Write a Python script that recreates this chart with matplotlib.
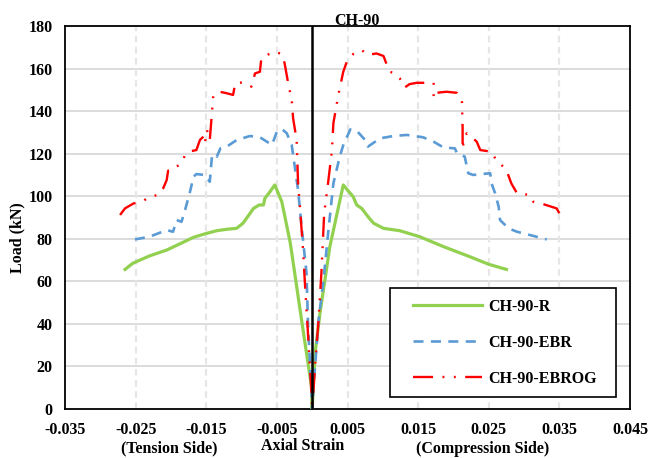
import matplotlib
matplotlib.use('Agg')
import matplotlib.pyplot as plt
from matplotlib.lines import Line2D
from matplotlib.legend_handler import HandlerLine2D
import numpy as np

plt.rcParams['font.family'] = ['Liberation Serif', 'DejaVu Serif']
plt.rcParams['font.weight'] = 'bold'

# ---- data (strain, load in kN) ----
r_strain = [-0.0265, -0.0254, -0.0230, -0.0206, -0.0185, -0.0168, -0.0150, -0.0135, -0.0120,
            -0.0107, -0.0098, -0.0090, -0.0083, -0.0075, -0.0069, -0.0067, -0.0060, -0.0053,
            -0.0043, -0.0031, -0.0015, -0.0008, -0.0001, 0.0, 0.0004, 0.0011, 0.0025, 0.0044,
            0.0051, 0.0058, 0.0063, 0.0070, 0.0080, 0.0087, 0.0101, 0.0124, 0.0152, 0.0186,
            0.0223, 0.0250, 0.0275]
r_load = [65.6, 68.5, 72.0, 74.7, 78.0, 80.7, 82.5, 83.8, 84.5,
          84.9, 87.3, 91.0, 94.3, 95.9, 95.9, 99.0, 102.0, 105.3,
          97.4, 78.0, 41.8, 26.2, 10.5, 0.0, 26.0, 45.0, 76.3, 105.3,
          102.5, 99.8, 95.9, 94.3, 90.0, 87.3, 84.9, 83.8, 81.0, 76.3,
          71.6, 68.0, 65.6]

ebr_strain = [-0.0251, -0.0230, -0.0206, -0.0197, -0.0192, -0.0185, -0.0180, -0.0173, -0.0168,
              -0.0164, -0.0152, -0.0145, -0.0142, -0.0138, -0.0135, -0.0130, -0.0121, -0.0107,
              -0.0088, -0.0074, -0.0064, -0.0057, -0.0050, -0.0043, -0.0036, -0.0029, -0.0020,
              -0.0015, -0.0008, -0.0006, -0.0001, 0.0, 0.0002, 0.0009, 0.0016, 0.0023, 0.0030,
              0.0039, 0.0044, 0.0054, 0.0063, 0.0075, 0.0079, 0.0096, 0.0115, 0.0134, 0.0157,
              0.0172, 0.0186, 0.0202, 0.0205, 0.0216, 0.0221, 0.0228, 0.0252, 0.0254, 0.0259,
              0.0264, 0.0266, 0.0278, 0.0290, 0.0308, 0.0332]
ebr_load = [79.7, 81.0, 84.1, 83.3, 88.8, 88.0, 93.5, 102.1, 109.2,
            110.4, 110.0, 106.8, 118.6, 119.8, 118.6, 122.5, 123.3, 126.4,
            128.3, 127.7, 125.6, 124.1, 130.3, 131.6, 129.6, 124.1, 102.9,
            85.7, 63.8, 40.3, 7.4, 0.0, 10.5, 41.8, 60.6, 84.0, 106.0,
            118.6, 124.0, 131.4, 130.8, 126.4, 123.3, 127.2, 128.3, 128.8, 127.7,
            125.6, 122.9, 122.5, 120.2, 118.6, 110.8, 110.0, 110.8, 106.0, 101.4,
            95.1, 88.8, 84.9, 83.3, 81.8, 79.7]

ebrog_strain = [-0.0272, -0.0265, -0.0253, -0.0241, -0.0230, -0.0218, -0.0211, -0.0206, -0.0204,
                -0.0197, -0.0192, -0.0185, -0.0180, -0.0175, -0.0164, -0.0159, -0.0154, -0.0152,
                -0.0149, -0.0145, -0.0142, -0.0140, -0.0131, -0.0121, -0.0112, -0.0109, -0.0098,
                -0.0086, -0.0081, -0.0074, -0.0072, -0.0064, -0.0053, -0.0043, -0.0039, -0.0034,
                -0.0029, -0.0027, -0.0022, -0.0020, -0.0017, -0.0013, -0.0010, -0.0006, -0.0001,
                0.0, 0.0004, 0.0009, 0.0013, 0.0017, 0.0023, 0.0028, 0.0030, 0.0037, 0.0044,
                0.0049, 0.0058, 0.0070, 0.0079, 0.0091, 0.0101, 0.0104, 0.0110, 0.0117, 0.0124,
                0.0131, 0.0138, 0.0148, 0.0172, 0.0172, 0.0176, 0.0190, 0.0205, 0.0212, 0.0213,
                0.0213, 0.0215, 0.0219, 0.0228, 0.0233, 0.0238, 0.0254, 0.0256, 0.0264, 0.0268,
                0.0275, 0.0282, 0.0290, 0.0308, 0.0313, 0.0327, 0.0346, 0.0350]
ebrog_load = [91.2, 94.3, 96.6, 97.4, 99.8, 100.6, 103.7, 107.6, 112.0,
              112.3, 113.9, 115.5, 119.4, 120.9, 121.7, 126.4, 128.0, 124.8,
              131.1, 126.4, 139.0, 147.6, 149.1, 148.4, 147.6, 153.1, 153.5,
              151.5, 157.7, 158.5, 164.8, 166.4, 167.9, 166.8, 162.4, 153.1,
              145.2, 136.6, 126.4, 106.0, 93.5, 75.0, 57.5, 35.6, 7.4,
              0.0, 20.0, 41.8, 63.8, 92.0, 107.6, 121.7, 134.3, 147.6, 158.5,
              163.2, 166.8, 168.7, 166.4, 167.1, 165.9, 163.2, 158.5, 157.7, 155.4,
              151.1, 152.7, 153.3, 153.3, 146.0, 148.6, 149.1, 148.6, 145.2, 131.9,
              122.0, 127.2, 129.6, 127.2, 125.6, 121.7, 120.9, 119.4, 115.5, 114.7,
              112.3, 106.0, 101.4, 100.6, 97.4, 96.3, 94.3, 92.0]

x_ticks = [-0.035, -0.025, -0.015, -0.005, 0.005, 0.015, 0.025, 0.035, 0.045]
y_ticks = [0, 20, 40, 60, 80, 100, 120, 140, 160, 180]

W, H = 649, 458
fig = plt.figure(figsize=(W / 100, H / 100), dpi=100)
ax = fig.add_axes([65 / W, 1 - 409 / H, 565 / W, 383 / H])

# grid
for yv in y_ticks[1:-1]:
    ax.axhline(yv, color='#d9d9d9', lw=1.3, zorder=0)
for xv in x_ticks[1:-1]:
    ax.axvline(xv, color='#e6e6e6', lw=1.6, ls=(0, (3, 2)), zorder=0)

ax.plot(r_strain, r_load, color='#92d050', lw=2.3, label='CH-90-R', zorder=3,
        solid_joinstyle='round')
ax.plot(ebr_strain, ebr_load, color='#5b9bd5', lw=1.9, dashes=(3.8, 2.8), label='CH-90-EBR', zorder=4)
ax.plot(ebrog_strain, ebrog_load, color='#ff0000', lw=1.7,
        dashes=(8.5, 4.0, 0.8, 4.0, 0.8, 4.0), label='CH-90-EBROG', zorder=5)

ax.axvline(0, color='black', lw=1.8, zorder=6)

ax.set_xlim(-0.035, 0.045)
ax.set_ylim(0, 180)
ax.set_xticks(x_ticks)
ax.set_xticklabels([f'{v:.3f}' for v in x_ticks])
ax.set_yticks(y_ticks)
ax.tick_params(length=0, pad=9, labelsize=11.5)
for sp in ax.spines.values():
    sp.set_color('black')
    sp.set_linewidth(1.3)

leg = ax.legend(loc='lower left', bbox_to_anchor=(0.575, 0.031, 0.40, 0.285), mode='expand',
                borderaxespad=0, fontsize=11.5, handlelength=5.1, handletextpad=0.4,
                labelspacing=1.25, borderpad=0.65, fancybox=False, framealpha=1,
                edgecolor='black', handler_map={Line2D: HandlerLine2D(xpad=0.8)})
leg.get_frame().set_linewidth(1.2)

fig.text(357 / W, 1 - 25 / H, 'CH-90', ha='center', va='baseline', fontsize=11.5, fontweight='bold')
fig.text(17 / W, 1 - 238 / H, 'Load (kN)', ha='center', va='center', rotation=90,
         fontsize=11.5, fontweight='bold')
fig.text(169 / W, 1 - 448 / H, '(Tension Side)', ha='center', va='center', fontsize=11.5, fontweight='bold')
fig.text(303 / W, 1 - 446 / H, 'Axial Strain', ha='center', va='center', fontsize=11.5, fontweight='bold')
fig.text(483 / W, 1 - 449 / H, '(Compression Side)', ha='center', va='center', fontsize=11.5, fontweight='bold')

fig.savefig('out.png', dpi=100, facecolor='white')
